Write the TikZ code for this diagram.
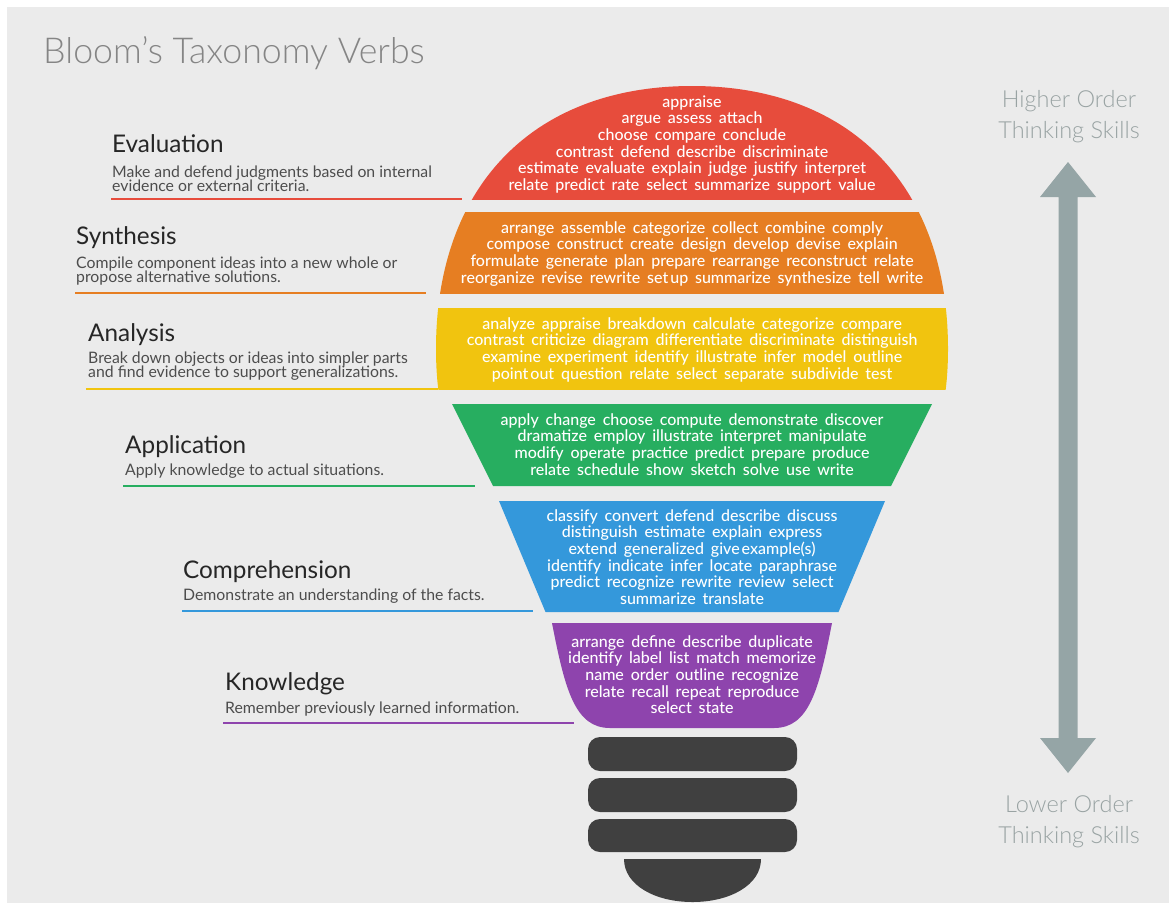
\documentclass[tikz,border=0pt]{standalone}
\usepackage{fontspec}
\setmainfont{Lato}
\newfontfamily\lightfont{Lato Light}
\newfontfamily\medfont{Lato Medium}
\definecolor{bg}{HTML}{EBEBEB}
\definecolor{cred}{HTML}{E74C3C}
\definecolor{corange}{HTML}{E67E22}
\definecolor{cyellow}{HTML}{F1C40F}
\definecolor{cgreen}{HTML}{27AE60}
\definecolor{cblue}{HTML}{3498DB}
\definecolor{cpurple}{HTML}{8E44AD}
\definecolor{cbase}{HTML}{404040}
\definecolor{carrow}{HTML}{95A5A6}
\definecolor{titlec}{HTML}{858585}
\definecolor{headc}{HTML}{262626}
\definecolor{descc}{HTML}{4D4D4D}
\definecolor{sidec}{HTML}{99A3A3}
\newcommand\mystrut{\rule{0pt}{12.5pt}}
\newcommand\bigstrut{\rule{0pt}{17pt}}
\tikzset{
  verbs/.style={font={\medfont\fontsize{16}{16.6}\selectfont\spaceskip=6.8pt plus 1pt\relax\lineskiplimit=-20pt\relax}, text=white, align=center, anchor=north, inner sep=0pt},
  head/.style={font={\fontsize{24.3}{28}\selectfont}, text=headc, anchor=base west, inner sep=0pt},
  desc/.style={font={\fontsize{15.8}{13.8}\selectfont\lineskiplimit=-20pt\relax}, text=descc, align=left, anchor=north west, inner sep=0pt},
  descone/.style={font={\fontsize{15.8}{13.8}\selectfont}, text=descc, anchor=base west, inner sep=0pt},
  side/.style={font={\lightfont\fontsize{23.5}{31}\selectfont\lineskiplimit=-20pt\relax}, text=sidec, align=center, anchor=north, inner sep=0pt},
  uline/.style={line width=2pt},
  plug/.style={fill=cbase, rounded corners=12pt}
}
\begin{document}
\begin{tikzpicture}[x=1pt,y=-1pt]
\useasboundingbox (0,0) rectangle (1169,903);
\fill[white] (0,0) rectangle (1169,903);
\fill[bg] (7,7) rectangle (1169,903);

% title
\node[font={\lightfont\fontsize{35.7}{40}\selectfont}, text=titlec, anchor=base west, inner sep=0pt] (title) at (43,63) {Bloom’s Taxonomy Verbs};

% bulb upper bands
\begin{scope}
\clip (692,86) .. controls (850.7,86) and (948,186) .. (948,349)
   .. controls (948,372) and (946,390) .. (944,400) -- (440,400)
   .. controls (438,390) and (436,372) .. (436,349)
   .. controls (436,186) and (533.3,86) .. (692,86) -- cycle;
\fill[cred] (400,80) rectangle (1000,200);
\fill[corange] (400,212) rectangle (1000,294);
\fill[cyellow] (400,308) rectangle (1000,390);
\end{scope}
% lower bands
\fill[cgreen] (452,404) -- (932,404) -- (891,486) -- (493,486) -- cycle;
\fill[cblue] (499,501) -- (885,501) -- (838.5,612) -- (545.5,612) -- cycle;
\fill[cpurple] (552,623) -- (832,623) .. controls (819,690) and (809,728) .. (774,728)
   -- (610,728) .. controls (575,728) and (565,690) .. (552,623) -- cycle;
% base
\fill[plug] (588,737) rectangle (797,771);
\fill[plug] (588,778) rectangle (797,812);
\fill[plug] (588,819) rectangle (797,852);
\fill[cbase] (624,859) -- (761,859) .. controls (761,885) and (730,902) .. (692.5,902)
   .. controls (655,902) and (624,885) .. (624,859) -- cycle;

% verbs
\node[verbs] (vEval) at (692,94.5) {\mystrut appraise\\ argue assess attach\\ choose compare conclude\\ contrast defend describe discriminate\\ estimate evaluate explain judge justify interpret\\ relate predict rate select summarize support value};
\node[verbs] (vSyn) at (692,220.5) {\mystrut arrange assemble categorize collect combine comply\\ compose construct create design develop devise explain\\ formulate generate plan prepare rearrange reconstruct relate\\ reorganize revise rewrite set\hspace{2pt}up summarize synthesize tell write};
\node[verbs] (vAna) at (692,316.5) {\mystrut analyze appraise breakdown calculate categorize compare\\ contrast criticize diagram differentiate discriminate distinguish\\ examine experiment identify illustrate infer model outline\\ point\hspace{2pt}out question relate select separate subdivide test};
\node[verbs] (vApp) at (692,412.5) {\mystrut apply change choose compute demonstrate discover\\ dramatize employ illustrate interpret manipulate\\ modify operate practice predict prepare produce\\ relate schedule show sketch solve use write};
\node[verbs] (vCom) at (692,508.5) {\mystrut classify convert defend describe discuss\\ distinguish estimate explain express\\ extend generalized give\hspace{2pt}example(s)\\ identify indicate infer locate paraphrase\\ predict recognize rewrite review select\\ summarize translate};
\node[verbs] (vKno) at (692,634.5) {\mystrut arrange define describe duplicate\\ identify label list match memorize\\ name order outline recognize\\ relate recall repeat reproduce\\ select state};

% labels
\node[head] (hEval) at (112,152) {Evaluation};
\node[desc] (dEval) at (112,164.5) {\mystrut Make and defend judgments based on internal\\ evidence or external criteria.};
\draw[uline, cred] (111,199) coordinate (uEa) -- (462,199) coordinate (uEb);

\node[head] (hSyn) at (76,244) {Synthesis};
\node[desc] (dSyn) at (76,255.5) {\mystrut Compile component ideas into a new whole or\\ propose alternative solutions.};
\draw[uline, corange] (75,293) coordinate (uSa) -- (426,293) coordinate (uSb);

\node[head] (hAna) at (88,341) {Analysis};
\node[desc] (dAna) at (88,350.5) {\mystrut Break down objects or ideas into simpler parts\\ and find evidence to support generalizations.};
\draw[uline, cyellow] (86,389) coordinate (uAa) -- (438,389) coordinate (uAb);

\node[head] (hApp) at (125,453) {Application};
\node[descone] (dApp) at (125,475) {Apply knowledge to actual situations.};
\draw[uline, cgreen] (123,486) coordinate (uPa) -- (475,486) coordinate (uPb);

\node[head] (hCom) at (183,578) {Comprehension};
\node[descone] (dCom) at (183,600) {Demonstrate an understanding of the facts.};
\draw[uline, cblue] (182,611) coordinate (uCa) -- (533,611) coordinate (uCb);

\node[head] (hKno) at (225,690) {Knowledge};
\node[descone] (dKno) at (225,713) {Remember previously learned information.};
\draw[uline, cpurple] (223,723) coordinate (uKa) -- (574,723) coordinate (uKb);

% side arrow and labels
\node[side] (hi) at (1069,90) {\bigstrut Higher Order\\ Thinking Skills};
\node[side] (lo) at (1069,795) {\bigstrut Lower Order\\ Thinking Skills};
\fill[carrow] (1068,162) -- (1096,197) -- (1077.5,197) -- (1077.5,738) -- (1096,738)
   -- (1068,773) -- (1040,738) -- (1058.5,738) -- (1058.5,197) -- (1040,197) -- cycle;
\end{tikzpicture}
\end{document}
